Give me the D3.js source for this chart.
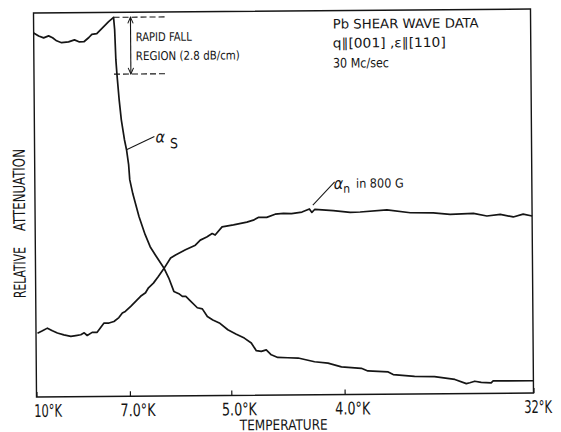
<!DOCTYPE html>
<html>
<head>
<meta charset="utf-8">
<script src="https://cdn.jsdelivr.net/npm/d3@7"></script>
<style>
  body { margin: 0; background: #fff; }
  svg text { font-family: "Liberation Sans Narrow", "DejaVu Sans Condensed", "Liberation Sans", sans-serif; fill: #151515; }
</style>
</head>
<body>
<svg id="chart"></svg>
<script>
var screen = {width: 561, height: 432}
var frame = {left: 35, right: 532, top: 11, bottom: 395}

// trace position (0-100 across the recorder sweep), relative attenuation (0-100)
var alphaS = [[0,94.8],[1,94.0],[2,93.5],[3,94.0],[3.8,93.5],[4.6,92.7],[5.6,92.2],[7,92.4],[8.2,92.9],
  [9.1,92.4],[10.1,92.4],[11.1,93.5],[11.7,94.3],[12.7,94.5],[13.7,95.8],[15.1,97.6],[16.1,98.7],
  [16.3,95.5],[16.5,87.6],[16.7,83.7],[17.1,77.2],[17.5,72.0],[18.1,66.8],[18.5,64.2],[18.9,60.3],
  [19.1,56.4],[19.7,52.7],[20.9,46.8],[22.1,42.1],[23.1,38.9],[24.1,36.8],[25.8,33.4],[26.8,30.7],
  [27.8,27.2],[28.8,26.6],[29.5,25.9],[30.2,25.9],[31.2,24.6],[32.5,22.9],[33.5,22.6],[34.5,20.6],
  [35.6,19.7],[36.9,18.9],[38.6,17.1],[40.2,16.0],[41.9,14.9],[43.3,13.6],[44.3,11.6],[45.3,11.4],
  [46.3,11.8],[47.3,10.5],[48.6,9.8],[50.6,9.7],[52.7,9.6],[56.0,8.6],[58.7,8.2],[61.4,7.2],
  [65.4,6.8],[66.7,6.1],[70.8,5.8],[71.8,5.1],[76.1,4.6],[80.1,4.5],[84.2,3.7],[86.5,2.6],
  [87.2,2.8],[88.2,3.2],[89.5,2.9],[91.5,2.75],[91.9,3.25],[100,3.2]]

var alphaN = [[0.3,16.6],[1.3,17.2],[2.3,17.9],[3.3,17.2],[4.3,16.6],[5.6,16.1],[7.0,15.7],[8.0,15.9],
  [9.0,16.1],[9.7,16.6],[10.3,15.9],[11.3,16.7],[12.3,16.7],[13.7,19.1],[14.7,19.1],[15.7,19.5],
  [16.7,20.5],[17.4,21.7],[18.0,22.1],[19.1,23.4],[20.1,24.7],[21.1,26.0],[22.1,26.9],[22.7,28.2],
  [23.7,29.4],[24.7,31.1],[25.8,33.1],[27.2,35.9],[28.2,36.7],[30.2,38.0],[32.2,39.2],[33.2,40.5],
  [34.5,41.3],[35.6,42.2],[36.2,41.8],[37.6,43.9],[39.9,44.4],[42.6,45.1],[43.9,45.6],[44.9,46.3],
  [46.6,46.3],[48.3,47.1],[50.0,47.3],[51.6,47.2],[53.7,47.6],[55.2,48.4],[55.7,47.5],[56.3,48.3],
  [60.0,47.9],[63.4,47.4],[65.4,47.5],[70.8,48.0],[75.5,47.2],[80.1,47.1],[83.5,46.7],[88.2,46.9],
  [90.9,46.2],[93.6,46.6],[96.2,45.9],[98.2,46.6],[100,46.1]]

var tickPos = [0, 18.8, 39.2, 62.0, 100]
var tickLabels = ["10°K", "7.0°K", "5.0°K", "4.0°K", "32°K"]
var rapidFall = [98.7, 83.9]        // top and bottom of the rapid fall, attenuation units
var rapidFallX = [16.1, 26.8, 19.5] // dashed line start, end, arrow position
var infoLines = ["Pb SHEAR WAVE DATA", "q\u2225[001] ,\u03b5\u2225[110]", "30 Mc/sec"]

var svg = d3.select("#chart")
  .attr("width", screen.width)
  .attr("height", screen.height)

var g = svg.append("g")
  .attr("transform", "rotate(-0.45,284,203)")

var xScale = d3.scaleLinear().domain([0, 100]).range([frame.left, frame.right])
var yScale = d3.scaleLinear().domain([0, 100]).range([frame.bottom, frame.top])

var ink = "#151515"

// frame
g.append("rect")
  .attr("x", frame.left).attr("y", frame.top)
  .attr("width", frame.right - frame.left)
  .attr("height", frame.bottom - frame.top)
  .attr("fill", "none").attr("stroke", ink).attr("stroke-width", 1.4)

var xAxis = d3.axisBottom(xScale)
  .tickValues(tickPos)
  .tickSizeInner(-5)
  .tickSizeOuter(0)
  .tickFormat(function(d, i) { return tickLabels[i] })

var axisG = g.append("g")
  .attr("transform", "translate(0," + frame.bottom + ")")
  .call(xAxis)
axisG.select(".domain").remove()
axisG.selectAll("line").attr("stroke", ink).attr("stroke-width", 1.2)
axisG.selectAll("text")
  .attr("y", 20).attr("dy", 0)
  .attr("text-anchor", "start")
  .attr("x", function(d, i) { return i == 0 ? -3 : -10 })
  .attr("font-size", 17.5)
  .attr("textLength", function(d, i) { return tickLabels[i].length * 7 })
  .attr("lengthAdjust", "spacingAndGlyphs")
  .attr("fill", ink)

g.append("text")
  .attr("x", 238).attr("y", 430)
  .attr("font-size", 14.5)
  .attr("textLength", 88).attr("lengthAdjust", "spacingAndGlyphs")
  .text("TEMPERATURE")

g.append("text")
  .attr("transform", "translate(25,296) rotate(-90)")
  .attr("font-size", 16.5)
  .attr("textLength", 51).attr("lengthAdjust", "spacingAndGlyphs")
  .text("RELATIVE")
g.append("text")
  .attr("transform", "translate(25,229) rotate(-90)")
  .attr("font-size", 16.5)
  .attr("textLength", 82).attr("lengthAdjust", "spacingAndGlyphs")
  .text("ATTENUATION")

// traces
var line = d3.line()
  .x(function(d) { return xScale(d[0]) })
  .y(function(d) { return yScale(d[1]) })

g.selectAll(".trace")
  .data([alphaS, alphaN])
  .enter()
  .append("path")
  .attr("class", "trace")
  .attr("d", line)
  .attr("fill", "none")
  .attr("stroke", ink)
  .attr("stroke-width", 1.7)
  .attr("stroke-linejoin", "round")

// rapid fall region
g.selectAll(".rf")
  .data(rapidFall)
  .enter()
  .append("line")
  .attr("class", "rf")
  .attr("x1", xScale(rapidFallX[0]))
  .attr("x2", xScale(rapidFallX[1]))
  .attr("y1", function(d) { return yScale(d) })
  .attr("y2", function(d) { return yScale(d) })
  .attr("stroke", ink).attr("stroke-width", 1.1)
  .attr("stroke-dasharray", "6,3")

svg.append("defs").append("marker")
  .attr("id", "head")
  .attr("viewBox", "0 0 10 10")
  .attr("refX", 9).attr("refY", 5)
  .attr("markerWidth", 7).attr("markerHeight", 7)
  .attr("orient", "auto-start-reverse")
  .append("path")
  .attr("d", "M1,1.5 L9,5 L1,8.5")
  .attr("fill", "none").attr("stroke", ink).attr("stroke-width", 1.3)

g.append("line")
  .attr("x1", xScale(rapidFallX[2])).attr("x2", xScale(rapidFallX[2]))
  .attr("y1", yScale(rapidFall[0])).attr("y2", yScale(rapidFall[1]))
  .attr("stroke", ink).attr("stroke-width", 1.1)
  .attr("marker-start", "url(#head)")
  .attr("marker-end", "url(#head)")

g.append("text")
  .attr("x", 137).attr("y", 40)
  .attr("font-size", 12)
  .attr("textLength", 56).attr("lengthAdjust", "spacingAndGlyphs")
  .text("RAPID FALL")
g.append("text")
  .attr("x", 137).attr("y", 59)
  .attr("font-size", 12)
  .attr("textLength", 104).attr("lengthAdjust", "spacingAndGlyphs")
  .text("REGION (2.8 dB/cm)")

// info block
var infoY = [29, 48, 68]
var infoW = [146, 113, 56]
g.selectAll(".info")
  .data(infoLines)
  .enter()
  .append("text")
  .attr("class", "info")
  .attr("x", 334)
  .attr("y", function(d, i) { return infoY[i] })
  .attr("font-size", 13)
  .attr("textLength", function(d, i) { return infoW[i] })
  .attr("lengthAdjust", "spacingAndGlyphs")
  .text(function(d) { return d })

// curve labels with leader lines
var sAnchor = [18.5, 64.2]
var nAnchor = [55.9, 49.4]

var sx = xScale(sAnchor[0]), sy = yScale(sAnchor[1])
g.append("line")
  .attr("x1", sx).attr("y1", sy).attr("x2", sx + 28).attr("y2", sy - 13)
  .attr("stroke", ink).attr("stroke-width", 1)
var sLab = g.append("text").attr("x", sx + 29).attr("y", sy - 7)
sLab.append("tspan").attr("font-size", 16).attr("font-style", "italic").text("\u03b1")
sLab.append("tspan").attr("font-size", 14).attr("dx", 5).attr("dy", 6).text("S")

var nx = xScale(nAnchor[0]), ny = yScale(nAnchor[1])
g.append("line")
  .attr("x1", nx).attr("y1", ny).attr("x2", nx + 22).attr("y2", ny - 23)
  .attr("stroke", ink).attr("stroke-width", 1)
var nLab = g.append("text").attr("x", nx + 21).attr("y", ny - 16)
nLab.append("tspan").attr("font-size", 16).attr("font-style", "italic").text("\u03b1")
nLab.append("tspan").attr("font-size", 12).attr("dy", 4).text("n")
nLab.append("tspan").attr("font-size", 12.5).attr("dx", 6).attr("dy", -5).text("in 800 G")
</script>
</body>
</html>
